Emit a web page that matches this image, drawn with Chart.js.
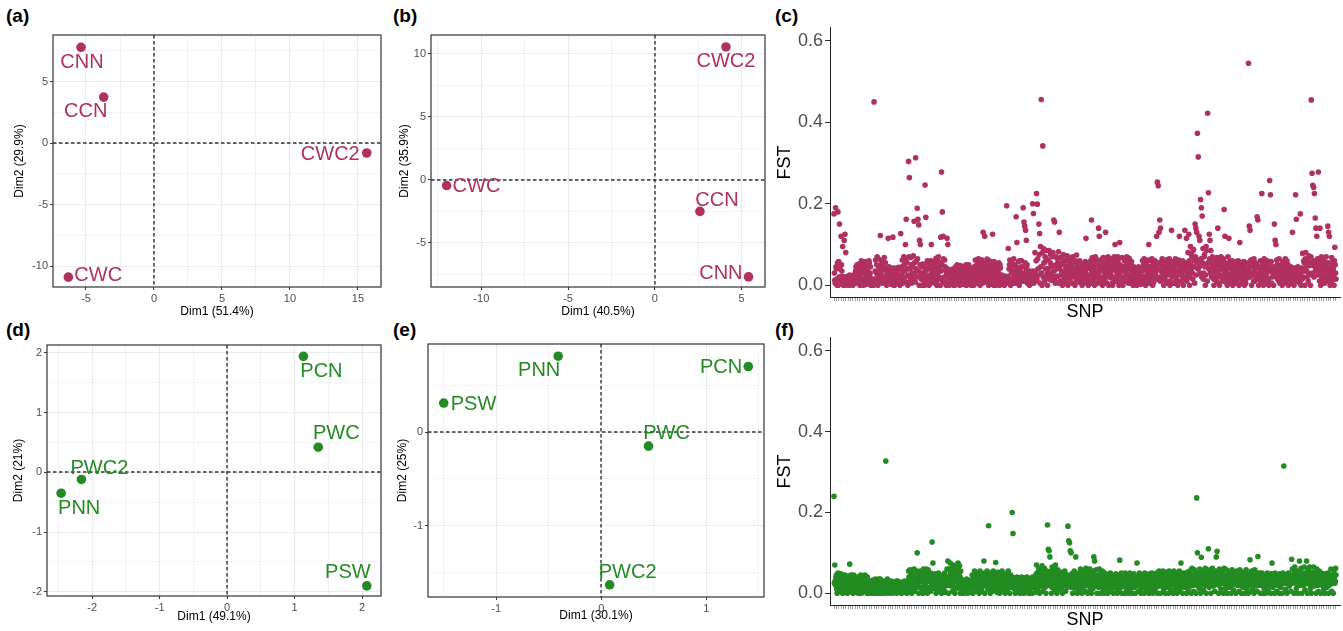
<!DOCTYPE html>
<html><head><meta charset="utf-8">
<script src="https://cdn.jsdelivr.net/npm/chart.js@4.4.1/dist/chart.umd.min.js"></script>
<style>
html,body{margin:0;padding:0;background:#fff;}
body{width:1343px;height:631px;position:relative;overflow:hidden;font-family:"Liberation Sans",Arial,Helvetica,sans-serif;}
canvas{position:absolute;}
.pl{position:absolute;font-weight:bold;font-size:19px;line-height:19px;color:#000;}
</style></head><body>
<div class="pl" style="left:6px;top:6px">(a)</div>
<div class="pl" style="left:393px;top:6px">(b)</div>
<div class="pl" style="left:775px;top:6px">(c)</div>
<div class="pl" style="left:6px;top:320px">(d)</div>
<div class="pl" style="left:393px;top:320px">(e)</div>
<div class="pl" style="left:775px;top:320px">(f)</div>
<script>
// ---------- DATA ----------
// (a) PCA
const aNames = ['CNN','CCN','CWC2','CWC'];
const aDim1 = [-5.37, -3.70, 15.65, -6.30];
const aDim2 = [7.80, 3.75, -0.80, -10.90];
const aTitles = ['Dim1 (51.4%)', 'Dim2 (29.9%)'];
// (b) PCA
const bNames = ['CWC2','CWC','CCN','CNN'];
const bDim1 = [4.10, -12.00, 2.60, 5.40];
const bDim2 = [10.55, -0.45, -2.50, -7.70];
const bTitles = ['Dim1 (40.5%)', 'Dim2 (35.9%)'];
// (d) PCA
const dNames = ['PCN','PWC','PWC2','PNN','PSW'];
const dDim1 = [1.13, 1.35, -2.16, -2.46, 2.07];
const dDim2 = [1.94, 0.42, -0.12, -0.35, -1.90];
const dTitles = ['Dim1 (49.1%)', 'Dim2 (21%)'];
// (e) PCA
const eNames = ['PNN','PCN','PSW','PWC','PWC2'];
const eDim1 = [-0.41, 1.40, -1.50, 0.45, 0.08];
const eDim2 = [0.81, 0.70, 0.31, -0.15, -1.63];
const eTitles = ['Dim1 (30.1%)', 'Dim2 (25%)'];
// FST tick labels
const fstTickValues = [0, 0.2, 0.4, 0.6];
// (c) FST per SNP (in SNP order), in thousandths
const fstC_milli = [
175,30,12,5,190,45,40,15,0,55,180,0,58,20,150,40,20,10,120,50,35,22,95,5,0,15,110,0,125,20,80,10,
8,15,22,5,0,20,15,0,25,12,3,22,18,8,10,18,0,4,24,20,12,10,30,35,45,20,5,50,38,15,20,42,
52,20,0,40,28,8,60,50,14,30,44,0,6,55,35,18,58,42,2,12,48,35,25,5,10,60,55,22,30,45,0,10,
12,5,0,10,15,0,450,8,8,35,62,15,30,50,70,20,0,65,45,12,18,40,122,30,25,60,52,8,5,45,38,20,
68,40,10,55,40,20,0,30,28,8,115,22,45,35,12,5,35,25,2,40,42,15,118,30,20,0,0,42,38,10,15,28,
30,15,5,38,44,8,18,25,0,40,127,12,25,45,62,5,10,35,70,50,35,20,100,62,162,8,55,40,0,25,304,70,
264,40,20,10,68,50,5,30,45,22,72,12,157,55,30,8,313,40,60,20,189,65,162,35,148,0,110,50,100,25,15,45,
0,30,52,15,28,45,8,0,246,35,167,20,40,55,60,10,15,40,0,25,48,5,22,60,100,15,35,45,58,20,6,30,
45,25,12,55,66,5,0,40,30,60,70,15,20,45,55,0,118,35,278,50,180,10,120,65,8,20,62,45,38,5,0,30,
115,40,100,10,25,20,0,32,38,5,12,25,30,15,5,38,40,0,18,30,0,12,45,28,22,40,50,5,8,30,35,18,
0,25,48,10,15,38,30,5,2,20,44,45,25,12,10,30,50,0,0,40,36,18,20,50,6,10,42,32,28,5,0,22,
40,20,12,30,0,45,33,10,62,40,18,5,50,28,5,55,65,15,28,45,0,35,58,20,40,62,10,5,130,50,22,30,
120,30,55,10,8,40,64,20,30,50,0,35,60,5,15,45,45,25,2,55,125,15,38,0,58,30,20,42,0,8,50,25,
28,40,10,30,55,15,0,50,42,5,18,8,25,15,5,20,12,2,0,18,22,10,8,15,195,5,15,22,90,8,40,50,
62,15,0,40,30,55,48,5,12,35,65,25,22,50,5,12,168,45,105,20,40,30,58,8,0,60,35,22,18,45,60,10,
25,45,190,30,155,10,145,55,135,20,110,40,50,5,12,25,35,15,0,30,20,8,30,22,5,35,200,12,176,5,28,18,
80,35,10,60,225,15,199,65,40,25,150,75,127,5,95,45,456,30,0,80,342,20,90,55,55,10,70,40,20,65,85,28,
0,40,62,25,85,15,30,55,75,45,12,30,48,70,80,20,160,35,155,10,5,50,70,22,40,65,22,55,82,5,130,45,
10,50,68,25,35,55,0,12,75,30,50,8,18,62,60,40,28,5,72,45,0,20,45,58,15,35,66,25,38,50,5,20,
70,45,22,5,58,30,0,60,40,18,74,25,12,50,55,38,30,8,60,45,8,25,45,15,0,40,52,30,20,5,35,48,
58,30,115,40,10,25,42,15,0,48,55,10,25,40,60,5,160,35,68,45,15,25,40,55,0,18,70,5,30,62,50,20,
5,30,140,40,120,10,62,50,20,8,45,35,0,58,68,20,35,50,12,25,130,45,58,5,25,35,70,50,0,20,40,62,
65,30,18,45,50,5,0,60,38,20,70,10,100,45,10,35,55,15,28,70,62,40,0,25,105,50,45,8,20,35,68,12,
0,45,35,20,60,10,12,40,48,30,70,55,25,8,5,48,66,20,40,5,15,55,58,35,30,15,0,40,45,22,20,8,
8,25,40,15,0,35,28,10,45,30,15,5,35,20,2,40,22,12,60,35,10,50,65,20,38,5,0,45,55,15,25,40,
62,30,100,45,5,20,45,60,30,12,65,40,0,25,52,8,18,45,60,30,35,15,120,50,253,40,244,20,130,55,160,10,
140,35,12,50,65,30,40,20,0,60,55,15,25,45,62,5,8,35,48,25,30,55,65,10,0,40,42,28,135,50,20,5,
58,30,5,45,35,20,65,50,15,5,50,35,0,60,62,25,120,40,28,10,45,55,10,30,60,20,0,45,38,15,135,55,
20,40,115,10,55,30,80,45,125,60,0,20,95,50,40,75,70,30,15,85,88,45,60,5,150,70,140,25,130,55,373,40,
315,60,120,45,110,30,210,65,190,20,170,55,90,15,30,70,75,45,0,25,95,85,50,10,422,55,227,40,125,65,110,30,
85,55,20,30,70,45,45,15,0,40,62,25,30,50,10,60,68,20,140,35,55,5,0,45,40,25,70,60,18,40,50,10,
65,40,186,30,120,55,8,20,48,35,0,25,70,45,115,15,25,60,55,5,12,40,60,30,0,50,38,20,22,45,58,10,
5,25,45,15,30,50,60,40,0,20,105,35,20,5,52,45,10,30,40,25,58,15,0,50,35,5,15,40,55,30,28,20,
545,40,145,20,135,50,62,30,0,25,48,60,25,10,65,40,10,30,55,20,30,50,168,15,160,45,0,30,42,20,60,10,
18,40,225,30,50,20,0,45,65,10,28,55,40,20,8,30,60,45,35,15,0,55,257,35,222,40,58,5,20,35,45,25,
0,35,150,25,110,45,100,20,62,50,15,30,40,10,65,25,5,40,50,20,30,45,0,15,58,35,22,5,45,30,65,50,
10,40,60,20,35,50,0,25,40,15,20,30,45,5,8,35,130,20,30,40,0,15,42,25,222,35,162,10,25,40,45,20,
15,25,38,5,175,30,0,20,42,15,78,40,20,60,55,35,0,65,80,45,35,20,62,50,10,30,72,55,48,25,0,70,
455,50,275,30,245,60,240,20,225,45,165,35,140,55,120,40,65,25,278,50,30,10,140,60,0,35,70,20,45,55,15,40,
60,30,5,50,38,15,70,45,22,55,145,35,130,10,120,40,0,30,55,20,68,45,12,35,40,25,0,60,93,50,30,15
];
// (f) FST per SNP (in SNP order), in thousandths
const fstF_milli = [
240,25,70,30,20,40,45,10,0,35,50,20,12,45,35,25,5,30,48,10,28,38,0,20,40,30,15,5,45,25,8,35,
30,20,0,40,42,10,18,30,72,25,5,45,38,15,25,35,0,20,45,30,12,5,32,40,2,25,40,15,20,35,0,10,
35,20,10,30,45,25,0,40,28,10,42,35,15,28,5,45,38,15,22,32,0,40,30,20,8,30,15,0,0,10,25,20,
0,15,32,25,10,5,0,28,20,10,35,20,5,30,0,15,28,10,12,35,0,25,35,5,18,10,0,25,30,20,8,15,
0,20,25,30,327,15,10,25,35,10,0,30,20,15,5,25,15,8,30,20,0,18,22,12,8,25,28,20,2,10,18,30,
0,20,30,10,12,28,25,15,5,25,20,8,0,20,28,12,15,25,2,18,30,8,10,25,22,15,0,30,18,8,55,40,
10,40,58,25,30,50,0,20,45,30,20,10,60,45,5,35,38,25,15,55,100,20,50,35,0,45,28,15,55,30,12,40,
42,30,0,50,60,15,22,40,8,25,50,60,35,10,0,45,58,30,15,5,45,35,5,50,30,20,127,40,75,25,40,15,
12,35,48,25,0,40,30,20,20,10,50,35,5,45,38,25,15,30,0,40,45,20,25,15,10,35,50,25,2,40,32,20,
60,40,80,30,0,60,40,20,75,50,18,35,55,65,5,25,70,45,30,15,0,55,65,30,45,40,12,60,75,20,25,50,
68,40,0,55,35,20,10,25,22,15,0,30,30,10,15,25,5,20,35,15,0,28,25,20,12,30,32,8,2,25,20,15,
45,25,0,40,30,15,55,35,12,45,40,20,5,30,50,40,22,10,0,45,55,20,35,30,8,40,48,25,18,35,80,50,
0,30,42,20,25,45,55,35,10,40,167,25,38,15,0,30,50,40,20,10,5,45,55,20,30,40,12,35,76,25,45,15,
2,40,52,20,28,45,0,30,40,10,15,35,55,25,8,40,35,20,20,45,0,30,48,35,25,15,10,40,55,25,30,45,
0,30,45,15,20,40,200,30,148,25,38,20,10,30,0,15,30,20,40,10,15,30,5,25,35,15,0,30,25,35,40,20,
8,20,30,15,0,25,38,10,18,30,5,35,40,15,22,30,0,10,35,25,12,20,28,35,0,15,40,25,15,30,32,20,
2,30,45,20,70,50,10,40,30,15,60,45,0,35,52,25,20,55,68,40,5,30,40,15,62,45,15,35,0,25,55,40,
169,30,109,50,105,20,90,45,35,55,0,15,65,40,25,30,50,60,8,20,70,45,40,15,0,35,58,30,18,50,45,25,
10,25,52,40,30,15,0,35,45,50,20,30,55,40,5,25,38,20,15,45,166,30,130,20,125,40,105,35,100,15,48,30,
0,20,35,45,55,30,12,40,90,25,42,15,0,35,25,45,50,30,8,20,60,40,30,50,0,25,55,15,20,35,45,40,
5,30,62,40,38,20,0,50,50,30,18,40,60,10,28,45,0,25,45,35,12,55,90,30,80,20,35,45,58,25,0,40,
40,25,15,45,60,35,0,20,48,30,25,40,55,15,8,35,0,30,50,20,30,40,12,25,45,35,0,15,38,25,20,40,
50,25,5,40,28,15,42,30,0,20,35,40,15,25,48,35,22,10,0,30,45,20,10,35,82,25,30,15,50,40,0,20,
38,25,18,40,0,30,50,15,25,35,8,40,45,20,0,30,32,15,50,40,12,30,40,20,0,35,28,15,48,30,15,25,
0,30,42,20,75,35,20,40,5,25,50,30,30,10,0,40,45,25,15,30,38,20,0,45,50,30,22,35,8,25,40,15,
28,35,0,40,48,20,12,30,35,25,50,10,0,40,20,30,42,25,5,40,30,15,50,30,0,25,38,45,55,30,18,40,
0,30,45,20,25,40,55,35,10,25,38,45,0,30,52,15,18,40,30,45,0,25,55,30,40,20,8,35,48,30,22,40,
0,35,55,25,32,45,12,40,48,20,0,30,40,50,20,35,55,15,5,40,75,30,35,20,0,25,50,35,15,40,45,30,
28,40,0,35,52,20,10,45,40,30,55,25,18,40,0,30,62,45,35,20,5,40,58,30,25,50,0,35,236,20,100,45,
45,30,12,50,60,40,0,20,89,45,30,40,55,25,8,35,40,50,62,20,0,40,22,35,50,30,110,45,15,25,58,40,
0,25,35,50,62,40,18,30,48,20,5,40,55,30,90,45,104,35,28,50,0,20,60,45,40,30,10,25,52,40,25,35,
0,30,62,45,38,20,12,40,58,30,0,25,30,45,50,35,15,30,42,50,0,20,58,40,22,35,8,30,48,25,30,45,
0,35,55,25,20,45,40,30,5,20,58,40,32,45,0,25,45,35,15,30,52,40,0,20,28,45,58,35,10,30,38,25,
0,30,48,20,83,40,22,35,55,25,8,45,35,20,0,30,58,40,18,30,42,25,5,50,91,35,30,20,50,40,0,30,
25,35,50,20,0,30,38,45,12,25,45,30,0,20,30,40,50,35,8,25,40,30,20,45,0,30,48,25,75,35,15,40,
35,25,0,40,50,30,22,35,5,45,42,20,30,40,0,30,48,25,15,35,38,45,0,25,50,30,315,40,25,40,10,30,
45,30,0,25,32,40,50,30,18,40,40,25,5,35,84,25,60,45,28,35,0,50,65,30,42,25,12,45,55,35,0,30,
38,25,80,50,20,40,62,30,0,45,50,35,30,20,65,40,8,50,45,25,80,35,0,45,58,30,25,40,65,20,12,50,
0,30,52,40,35,25,65,45,18,35,45,30,0,50,60,40,28,20,5,35,55,45,40,30,0,25,50,35,20,30,45,25,
10,30,0,40,48,25,30,40,15,35,50,30,0,20,38,45,22,30,60,40,5,25,45,30,0,35,55,40,25,30,62,45
];

// ---------- STYLE / LAYOUT ----------
const FONT = '"Liberation Sans", Arial, Helvetica, sans-serif';
const RED = '#B03060';
const GREEN = '#228B22';
Chart.defaults.font.family = FONT;

// label offsets from point (px) and text alignment
const placeA = [[1,15,'center'],[-18,14,'center'],[-7,1,'right'],[6,-2,'left']];
const placeB = [[0,15,'center'],[6,1,'left'],[17,-11,'center'],[-6,-3,'right']];
const placeD = [[18,15,'center'],[18,-14,'center'],[18,-11,'center'],[18,15,'center'],[-19,-13,'center']];
const placeE = [[-19,14,'center'],[-6,1,'right'],[7,1,'left'],[18,-13,'center'],[18,-12,'center']];

const G = {
  a:{cx:0,cy:25,cw:390,ch:300,L:53,T:35,R:381,B:287,yTitleX:19.5,xTitleY:312},
  b:{cx:390,cy:25,cw:390,ch:300,L:431,T:35,R:765,B:287,yTitleX:405,xTitleY:312},
  c:{cx:770,cy:15,cw:573,ch:315,L:830,T:27,R:1340,B:297,yTitleX:785,xTitleY:312},
  d:{cx:0,cy:335,cw:390,ch:295,L:47,T:345,R:381,B:596,yTitleX:19,xTitleY:617},
  e:{cx:390,cy:335,cw:390,ch:295,L:428,T:344,R:764,B:597,yTitleX:403,xTitleY:616},
  f:{cx:770,cy:325,cw:573,ch:306,L:830,T:337,R:1340,B:605,yTitleX:785,xTitleY:620}
};

function makeCanvas(g){
  const c = document.createElement('canvas');
  c.width = g.cw; c.height = g.ch;
  c.style.left = g.cx+'px'; c.style.top = g.cy+'px';
  c.style.width = g.cw+'px'; c.style.height = g.ch+'px';
  document.body.appendChild(c);
  return c;
}
function baseOptions(g){
  return {
    responsive:false, animation:false, devicePixelRatio:1,
    layout:{padding:{left:0, top:g.T-g.cy, right:g.cx+g.cw-g.R, bottom:0}},
    plugins:{legend:{display:false}, tooltip:{enabled:false}}
  };
}
function pcaAxis(isX, range, major, title, g){
  const half = major/2;
  const isMajor = v => Math.abs(v/major - Math.round(v/major)) < 1e-6;
  const lh = 12*1.2;
  return {
    type:'linear', position: isX?'bottom':'left', min:range[0], max:range[1],
    afterFit: s => { if (isX) s.height = g.cy+g.ch-g.B; else s.width = g.L-g.cx; },
    afterBuildTicks: s => {
      const t = [];
      for (let k = Math.ceil(range[0]/half - 1e-9); k*half <= range[1] + 1e-9; k++) t.push({value: Math.round(k*half*1e6)/1e6});
      s.ticks = t;
    },
    ticks:{autoSkip:false, maxRotation:0, minRotation:0,
      color:'#4D4D4D', font:{size:11}, padding:2,
      callback: v => isMajor(v) ? String(Math.round(v)) : ''},
    grid:{display:true, drawOnChartArea:true, drawTicks:true, tickLength:3,
      color:'#EBEBEB',
      lineWidth: c => (c.tick && isMajor(c.tick.value)) ? 1.1 : 0.6,
      tickColor: c => (c.tick && isMajor(c.tick.value)) ? '#333333' : 'rgba(0,0,0,0)', tickWidth:1},
    border:{display:false},
    title:{display:true, text:title, color:'#000', font:{size:12},
      padding: isX ? {top:0, bottom:g.cy+g.ch-g.xTitleY-lh/2} : {top:g.yTitleX-g.cx-lh/2, bottom:0}}
  };
}
function pcaPlugin(names, place, color){
  return {
    id:'pcaDeco',
    beforeDatasetsDraw(chart){
      const {ctx, chartArea:a, scales:{x,y}} = chart;
      ctx.save();
      ctx.beginPath(); ctx.rect(a.left,a.top,a.right-a.left,a.bottom-a.top); ctx.clip();
      ctx.strokeStyle='#333'; ctx.lineWidth=1.4; ctx.setLineDash([3.5,2.5]);
      const x0 = Math.round(x.getPixelForValue(0));
      const y0 = Math.round(y.getPixelForValue(0));
      ctx.beginPath(); ctx.moveTo(x0,a.top); ctx.lineTo(x0,a.bottom); ctx.stroke();
      ctx.beginPath(); ctx.moveTo(a.left,y0); ctx.lineTo(a.right,y0); ctx.stroke();
      ctx.restore();
    },
    afterDatasetsDraw(chart){
      const {ctx} = chart;
      const meta = chart.getDatasetMeta(0);
      ctx.save();
      ctx.font = '20px ' + FONT; ctx.fillStyle = color; ctx.textBaseline = 'middle';
      meta.data.forEach((pt,i) => {
        const p = place[i];
        ctx.textAlign = p[2];
        ctx.fillText(names[i], pt.x+p[0], pt.y+p[1]);
      });
      ctx.restore();
    },
    afterDraw(chart){
      const {ctx, chartArea:a} = chart;
      ctx.save(); ctx.strokeStyle='#333'; ctx.lineWidth=1.2;
      ctx.strokeRect(a.left, a.top, a.right-a.left, a.bottom-a.top);
      ctx.restore();
    }
  };
}
function makePca(g, names, d1, d2, color, place, xr, yr, xMajor, yMajor, titles){
  const opts = baseOptions(g);
  opts.scales = {
    x: pcaAxis(true, xr, xMajor, titles[0], g),
    y: pcaAxis(false, yr, yMajor, titles[1], g)
  };
  return new Chart(makeCanvas(g), {
    type:'scatter',
    data:{datasets:[{data: d1.map((v,i)=>({x:v, y:d2[i]})),
      pointRadius:4.8, pointHoverRadius:4.8, pointBackgroundColor:color, pointBorderWidth:0}]},
    options: opts,
    plugins:[pcaPlugin(names, place, color)]
  });
}
function makeFst(g, values, color){
  const opts = baseOptions(g);
  const lh = 18*1.2;
  const n = values.length;
  const pad = 4 * (n-1) / 502;
  opts.scales = {
    x:{type:'linear', position:'bottom', min:-pad, max:n-1+pad,
      afterFit: s => { s.height = g.cy+g.ch-g.B; },
      afterBuildTicks: s => { const t=[]; for (let v=0; v<n; v+=6) t.push({value:v}); s.ticks = t; },
      ticks:{display:false, autoSkip:false},
      grid:{display:true, drawOnChartArea:false, drawTicks:true, tickLength:4, tickColor:'#777', tickWidth:0.7},
      border:{display:true, color:'#222', width:1},
      title:{display:true, text:'SNP', color:'#000', font:{size:18}, padding:{top:0, bottom:g.cy+g.ch-g.xTitleY-lh/2}}},
    y:{type:'linear', position:'left', min:-0.029, max:0.632,
      afterFit: s => { s.width = g.L-g.cx; },
      afterBuildTicks: s => { s.ticks = fstTickValues.map(v => ({value:v})); },
      ticks:{color:'#4D4D4D', font:{size:18}, padding:2, autoSkip:false, callback: v => Number(v).toFixed(1)},
      grid:{display:true, drawOnChartArea:false, drawTicks:true, tickLength:5, tickColor:'#333', tickWidth:1},
      border:{display:true, color:'#222', width:1},
      title:{display:true, text:'FST', color:'#000', font:{size:18}, padding:{top:g.yTitleX-g.cx-lh/2, bottom:0}}}
  };
  return new Chart(makeCanvas(g), {
    type:'scatter',
    data:{datasets:[{data: values.map((v,i)=>({x:i, y:v/1000})),
      pointRadius:2.8, pointHoverRadius:2.8, pointBackgroundColor:color, pointBorderWidth:0}]},
    options: opts
  });
}

makePca(G.a, aNames, aDim1, aDim2, RED, placeA, [-7.43,16.7], [-11.7,8.8], 5, 5, aTitles);
makePca(G.b, bNames, bDim1, bDim2, RED, placeB, [-12.9,6.35], [-8.5,11.5], 5, 5, bTitles);
makeFst(G.c, fstC_milli, RED);
makePca(G.d, dNames, dDim1, dDim2, GREEN, placeD, [-2.67,2.28], [-2.07,2.13], 1, 1, dTitles);
makePca(G.e, eNames, eDim1, eDim2, GREEN, placeE, [-1.65,1.55], [-1.76,0.94], 1, 1, eTitles);
makeFst(G.f, fstF_milli, GREEN);
</script>
</body></html>
